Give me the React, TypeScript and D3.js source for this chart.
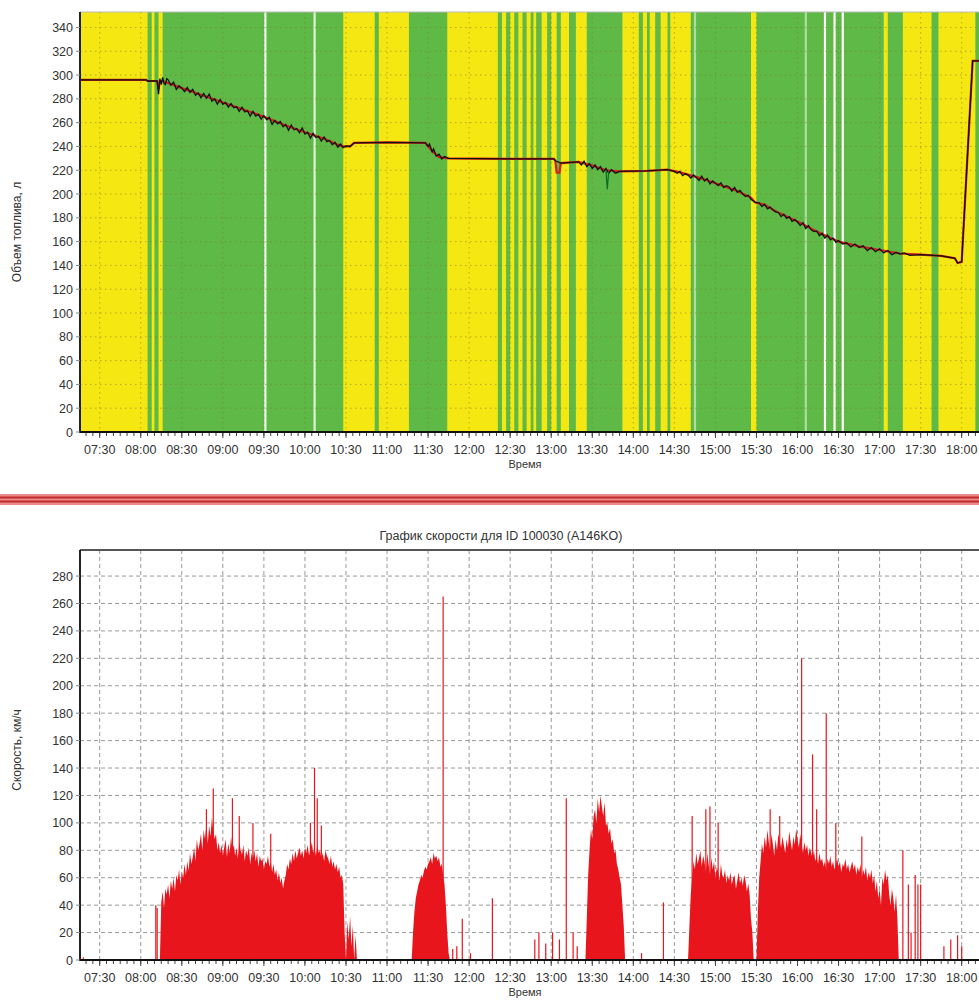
import React from "react";
import * as d3 from "d3";

const W = 979;
const H = 1001;

const parse = d3.timeParse("%H:%M");
const fmt = d3.timeFormat("%H:%M");
const T = (s: string) => parse(s) as Date;

// time window of both charts: 07:30 and 18:00 are anchored to their label positions
const timeAnchors = ["07:30", "18:00"];

// fuel chart: background state bands (green = moving), rest is yellow
const greenBands: [string, string][] = [
  ["08:05", "08:08"], ["08:10", "08:13"], ["08:16", "10:28"], ["10:51", "10:54"],
  ["11:16", "11:44"], ["12:21", "12:24"], ["12:27", "12:30"], ["12:33", "12:36"],
  ["12:39", "12:42"], ["12:45", "12:47"], ["12:49", "12:53"], ["12:57", "13:00"],
  ["13:04", "13:07"], ["13:13", "13:18"], ["13:26", "13:52"], ["14:04", "14:07"],
  ["14:10", "14:12"], ["14:16", "14:20"], ["14:25", "14:27"], ["14:42", "15:26"],
  ["15:30", "17:03"], ["17:06", "17:17"], ["17:38", "17:43"], ["18:10", "18:15"],
];
const whiteLines: [string, number][] = [
  ["09:31", 0.9], ["10:07", 0.8], ["14:45", 0.5], ["16:06", 0.5],
  ["16:20", 1], ["16:27", 1], ["16:33", 1],
];

// fuel volume, smoothed (red)
const fuelSmooth: [string, number][] = [
  ["07:15", 296], ["08:04", 296], ["08:05", 295], ["08:12", 295], ["08:13", 288],
  ["08:14", 295], ["08:16", 295], ["08:30", 289], ["08:45", 283], ["09:00", 277],
  ["09:15", 271], ["09:30", 265], ["09:45", 258], ["10:00", 252], ["10:15", 246],
  ["10:27", 240], ["10:33", 240], ["10:36", 243], ["11:00", 243.5], ["11:28", 243],
  ["11:33", 236], ["11:38", 231], ["11:45", 230], ["12:30", 229.5], ["13:02", 229.5],
  ["13:03", 228], ["13:04", 218], ["13:06", 218], ["13:07", 226], ["13:20", 227],
  ["13:30", 224], ["13:40", 220], ["13:50", 219], ["14:10", 219.5], ["14:25", 220.5],
  ["14:35", 218], ["14:50", 213], ["15:00", 209], ["15:15", 203], ["15:26", 197],
  ["15:29", 193], ["15:36", 191], ["15:45", 185], ["16:00", 177], ["16:15", 168],
  ["16:30", 160], ["16:45", 156], ["17:00", 153], ["17:15", 150], ["17:30", 149],
  ["17:45", 148], ["17:55", 146], ["17:57", 142], ["18:00", 143], ["18:08", 312],
  ["18:14", 312],
];

// fuel volume, raw sensor (black)
const fuelRaw: [string, number][] = [
  ["07:15", 296], ["08:04", 296], ["08:05", 295], ["08:12", 295], ["08:13", 284],
  ["08:14", 297], ["08:15", 292], ["08:16", 298], ["08:17", 293], ["08:18", 292],
  ["08:19", 297], ["08:20", 296], ["08:22", 291.5], ["08:24", 294], ["08:26", 288],
  ["08:28", 291], ["08:30", 289], ["08:32", 286], ["08:34", 289.5], ["08:36", 285.5],
  ["08:38", 288], ["08:40", 283], ["08:42", 285], ["08:44", 281], ["08:46", 284.5],
  ["08:48", 280.5], ["08:50", 284], ["08:52", 278], ["08:54", 280], ["08:56", 275.5],
  ["08:58", 279.5], ["09:00", 275.5], ["09:02", 277], ["09:04", 273], ["09:06", 276],
  ["09:08", 272.5], ["09:10", 273.5], ["09:12", 269.5], ["09:14", 273], ["09:16", 269],
  ["09:18", 270], ["09:20", 265.5], ["09:22", 269.5], ["09:24", 265.5], ["09:26", 267],
  ["09:28", 263], ["09:30", 266], ["09:32", 262.5], ["09:34", 264.5], ["09:36", 258.5],
  ["09:38", 262], ["09:40", 259], ["09:42", 261], ["09:44", 256.5], ["09:46", 258.5],
  ["09:48", 253.5], ["09:50", 258], ["09:52", 254], ["09:54", 255], ["09:56", 251.5],
  ["09:58", 255.5], ["10:00", 250.5], ["10:02", 252], ["10:04", 247], ["10:06", 251],
  ["10:08", 247.5], ["10:10", 248.5], ["10:12", 244.5], ["10:14", 248], ["10:16", 244],
  ["10:18", 245], ["10:20", 241.5], ["10:22", 243.5], ["10:24", 239.5], ["10:26", 242],
  ["10:28", 239], ["10:30", 240.5], ["10:33", 240], ["10:36", 243], ["11:00", 243.5],
  ["11:28", 243], ["11:30", 240], ["11:31", 242], ["11:33", 235.5], ["11:34", 238],
  ["11:36", 232], ["11:38", 233.5], ["11:40", 229.5], ["11:42", 231.5], ["11:45", 230],
  ["12:30", 229.5], ["13:02", 229.5], ["13:03", 228], ["13:07", 226], ["13:20", 227],
  ["13:22", 224.5], ["13:24", 227.5], ["13:26", 223], ["13:28", 225.5], ["13:30", 221.5],
  ["13:32", 224.5], ["13:34", 220.5], ["13:36", 223], ["13:38", 218.5], ["13:40", 221.5],
  ["13:42", 217.5], ["13:44", 220.5], ["13:47", 217.5], ["13:50", 219], ["14:10", 219.5],
  ["14:25", 220.5], ["14:30", 219], ["14:32", 217.5], ["14:34", 219], ["14:36", 215.5],
  ["14:38", 217], ["14:40", 216], ["14:42", 213.5], ["14:44", 216], ["14:46", 214],
  ["14:48", 211.5], ["14:50", 215], ["14:52", 211], ["14:54", 213], ["14:56", 208.5],
  ["14:58", 211], ["15:00", 209], ["15:02", 207], ["15:04", 209.5], ["15:06", 205.5],
  ["15:08", 207], ["15:10", 206], ["15:12", 202.5], ["15:14", 205.5], ["15:16", 201.5],
  ["15:18", 203], ["15:20", 200], ["15:22", 198], ["15:24", 199], ["15:26", 195.5],
  ["15:29", 193], ["15:32", 192.5], ["15:34", 189.5], ["15:36", 191.5], ["15:38", 187.5],
  ["15:40", 189], ["15:42", 186.5], ["15:44", 185], ["15:46", 184.5], ["15:48", 181],
  ["15:50", 183], ["15:52", 179.5], ["15:54", 181], ["15:56", 177], ["15:58", 178.5],
  ["16:00", 176.5], ["16:02", 173.5], ["16:04", 176], ["16:06", 171], ["16:08", 173.5],
  ["16:10", 170], ["16:12", 168.5], ["16:14", 169], ["16:16", 165], ["16:18", 167],
  ["16:20", 163], ["16:22", 165.5], ["16:24", 161.5], ["16:26", 163], ["16:28", 159.5],
  ["16:30", 161], ["16:33", 158], ["16:36", 159], ["16:39", 155.5], ["16:42", 158],
  ["16:45", 155], ["16:48", 156.5], ["16:51", 152.5], ["16:54", 155], ["16:57", 151.5],
  ["17:00", 154], ["17:03", 150.5], ["17:06", 152.5], ["17:09", 149], ["17:12", 151],
  ["17:15", 149.5], ["17:18", 150.5], ["17:22", 148.5], ["17:30", 149], ["17:45", 148],
  ["17:55", 146], ["17:57", 142], ["18:00", 143], ["18:08", 312], ["18:14", 312],
];

// short sensor glitches drawn in dark green
const fuelGlitch: [string, number][] = [
  ["13:40", 220], ["13:41", 204], ["13:42", 219],
];

// speed chart: continuous driving segments, 1-minute samples
const speedSegments: { start: string; values: number[] }[] = [
  {
    start: "08:14",
    values: [
      0, 42, 50, 38, 52, 48, 55, 45, 58, 52,
      60, 50, 62, 58, 66, 55, 64, 60, 70, 62,
      72, 65, 78, 70, 75, 82, 72, 88, 80, 85,
      92, 80, 95, 88, 100, 85, 98, 90, 104, 95,
      88, 92, 80, 86, 78, 84, 76, 82, 88, 75,
      85, 78, 90, 80, 84, 76, 82, 74, 86, 80,
      77, 84, 72, 80, 76, 82, 70, 78, 74, 80,
      72, 78, 68, 76, 72, 74, 66, 72, 70, 76,
      68, 72, 64, 70, 62, 66, 58, 64, 56, 60,
      52, 58, 62, 70, 66, 74, 70, 78, 72, 80,
      74, 78, 82, 76, 80, 74, 82, 78, 84, 76,
      80, 86, 78, 82, 76, 84, 78, 80, 74, 78,
      72, 80, 76, 74, 70, 76, 68, 72, 66, 70,
      64, 68, 60, 62, 55, 20, 0, 28, 15, 32,
      10, 25, 0, 18, 0,
    ],
  },
  {
    start: "11:18",
    values: [
      0, 20, 35, 45, 50, 55, 58, 62, 60, 65, 68, 66, 70, 72, 75,
      70, 78, 74, 76, 72, 75, 68, 70, 62, 55, 40, 20, 5, 0,
    ],
  },
  {
    start: "13:25",
    values: [
      0, 30, 62, 80, 95, 88, 105, 110, 100, 118, 108, 120, 112, 105, 115,
      98, 100, 92, 96, 85, 88, 78, 80, 70, 66, 60, 55, 40, 25, 0,
    ],
  },
  {
    start: "14:40",
    values: [
      0, 25, 48, 60, 72, 66, 78, 70, 74, 80, 68, 76, 72, 64, 78, 70, 62, 75, 66, 72,
      60, 68, 64, 58, 70, 62, 60, 66, 56, 62, 58, 64, 55, 60, 62, 52, 58, 64, 56, 60,
      54, 62, 58, 50, 56, 48, 30, 20, 0,
    ],
  },
  {
    start: "15:30",
    values: [
      0, 35, 60, 72, 85, 78, 90, 82, 95, 86,
      80, 92, 84, 76, 88, 80, 92, 86, 82, 90,
      84, 78, 88, 82, 94, 86, 80, 90, 84, 96,
      88, 82, 92, 84, 78, 86, 80, 84, 76, 82,
      78, 74, 80, 72, 76, 70, 78, 72, 74, 68,
      72, 66, 74, 70, 76, 68, 72, 66, 70, 74,
      68, 72, 64, 70, 68, 74, 66, 70, 64, 68,
      72, 66, 70, 62, 68, 64, 70, 60, 66, 62,
      68, 58, 64, 60, 66, 56, 62, 50, 58, 45,
      52, 40, 60, 55, 66, 58, 62, 48, 40, 52,
      45, 35, 48, 30, 0,
    ],
  },
];

// single speed readings (spikes and short moves)
const speedSpikes: [string, number][] = [
  ["07:18", 2], ["08:11", 40], ["08:12", 38], ["08:48", 110], ["08:53", 125], ["09:07", 118],
  ["09:12", 105], ["09:22", 100], ["09:35", 92], ["10:04", 100], ["10:07", 140],
  ["10:09", 118], ["10:12", 98], ["11:41", 265], ["11:48", 8], ["11:51", 10], ["11:55", 30],
  ["12:01", 5], ["12:17", 45], ["12:48", 15], ["12:51", 20], ["12:56", 12], ["13:01", 20],
  ["13:06", 15], ["13:11", 118], ["13:16", 20], ["13:19", 10], ["14:06", 5], ["14:22", 42],
  ["14:43", 105], ["14:53", 110], ["14:56", 112], ["15:02", 100], ["15:40", 110],
  ["15:47", 105], ["16:03", 220], ["16:11", 150], ["16:14", 110], ["16:21", 180],
  ["16:28", 100], ["16:47", 90], ["17:17", 80], ["17:21", 55], ["17:23", 20], ["17:26", 62],
  ["17:28", 55], ["17:30", 55], ["17:47", 10], ["17:52", 15], ["17:57", 18], ["18:00", 10],
];

const fuelTicks = d3.range(0, 341, 20);
const speedTicks = d3.range(0, 281, 20);

const FONT = "'Liberation Sans', Arial, sans-serif";
const TICK_SIZE = 12.5;
const YELLOW = "#f4e712";
const GREEN = "#5eb946";
const RED = "#e8161c";

const PL = 80; // plot left
const PR = 979; // plot right (cut by the picture edge)

const x = d3.scaleTime().domain(timeAnchors.map(T)).range([99.7, 961.7]);
const xTicks = d3.timeMinute.every(30)!.range(T("07:30"), T("18:01"));
const xMinor = d3.timeMinute.every(5)!.range(T("07:20"), T("18:15"));

const yFuel = d3.scaleLinear().domain([0, 353]).range([432, 12]);
const ySpeed = d3.scaleLinear().domain([0, 299]).range([960, 550]);

function XAxis({ y0, labelY }: { y0: number; labelY: number }) {
  return (
    <g fontFamily={FONT} fill="#333">
      {xMinor.filter((t) => x(t) < PR).map((t, i) => (
        <line key={"m" + i} x1={x(t)} x2={x(t)} y1={y0} y2={y0 + 3} stroke="#444" />
      ))}
      {xTicks.map((t, i) => (
        <g key={i}>
          <line x1={x(t)} x2={x(t)} y1={y0} y2={y0 + 5} stroke="#444" />
          <text x={x(t)} y={y0 + 21} textAnchor="middle" fontSize={TICK_SIZE}>{fmt(t)}</text>
        </g>
      ))}
      <text x={525} y={labelY} textAnchor="middle" fontSize={11}>Время</text>
    </g>
  );
}

function YAxis({ ticks, scale }: { ticks: number[]; scale: d3.ScaleLinear<number, number> }) {
  return (
    <g fontFamily={FONT} fontSize={TICK_SIZE} fill="#333">
      {ticks.map((v) => (
        <g key={v}>
          <line x1={PL - 4} x2={PL} y1={scale(v)} y2={scale(v)} stroke="#888" />
          <text x={73} y={scale(v) + 4.5} textAnchor="end">{v}</text>
        </g>
      ))}
    </g>
  );
}

export default function App() {
  const fuelLine = d3.line<[string, number]>().x((d) => x(T(d[0]))).y((d) => yFuel(d[1]));

  const speedArea = d3
    .area<{ t: Date; v: number }>()
    .x((d) => x(d.t))
    .y0(ySpeed(0))
    .y1((d) => ySpeed(d.v));

  const segPts = speedSegments.map((s) =>
    s.values.map((v, i) => ({ t: d3.timeMinute.offset(T(s.start), i), v }))
  );

  return (
    <svg width={W} height={H} style={{ position: "absolute", left: 0, top: 0, background: "#fff" }}>
      <rect width={W} height={H} fill="#fff" />

      {/* ---------- fuel chart ---------- */}
      <defs>
        <clipPath id="plotTop">
          <rect x={PL} y={12} width={PR - PL} height={420} />
        </clipPath>
        <clipPath id="plotBot">
          <rect x={PL} y={550} width={PR - PL} height={410} />
        </clipPath>
      </defs>
      <g clipPath="url(#plotTop)">
        <rect x={PL} y={12} width={PR - PL} height={420} fill={YELLOW} />
        {greenBands.map(([a, b], i) => (
          <rect key={i} x={x(T(a))} y={12} width={x(T(b)) - x(T(a))} height={420} fill={GREEN} />
        ))}
        {whiteLines.map(([t, o], i) => (
          <rect key={i} x={x(T(t)) - 1} y={12} width={2.2} height={420} fill="#fff" opacity={o} />
        ))}
        <g stroke="#7d7a2a" strokeOpacity={0.55} strokeDasharray="1.5,3.5">
          {fuelTicks.slice(1).map((v) => (
            <line key={v} x1={PL} x2={PR} y1={yFuel(v)} y2={yFuel(v)} />
          ))}
          {xTicks.map((t, i) => (
            <line key={i} x1={x(t)} x2={x(t)} y1={12} y2={432} />
          ))}
        </g>
        <path d={fuelLine(fuelSmooth) ?? ""} fill="none" stroke="#d3201c" strokeWidth={2.2} />
        <path d={fuelLine(fuelRaw) ?? ""} fill="none" stroke="#111" strokeWidth={1.3} />
        <path d={fuelLine(fuelGlitch) ?? ""} fill="none" stroke="#0c6b2a" strokeWidth={1.2} />
      </g>
      <line x1={PL} x2={PR} y1={12} y2={12} stroke="#bbb" />
      <line x1={PL} x2={PL} y1={12} y2={433} stroke="#222" strokeWidth={2} />
      <line x1={PL - 1} x2={PR} y1={432} y2={432} stroke="#111" strokeWidth={2} />
      <YAxis ticks={fuelTicks} scale={yFuel} />
      <XAxis y0={433} labelY={468} />
      <text
        transform="translate(21,232) rotate(-90)"
        textAnchor="middle"
        fontFamily={FONT}
        fontSize={12}
        fill="#333"
      >
        Объем топлива, л
      </text>

      {/* ---------- separator ---------- */}
      <rect x={0} y={494} width={W} height={11} fill="#e98a8a" />
      <rect x={0} y={496.5} width={W} height={2} fill="#c42a2a" />
      <rect x={0} y={500.5} width={W} height={2} fill="#c42a2a" />

      {/* ---------- speed chart ---------- */}
      <text x={501} y={540} textAnchor="middle" fontFamily={FONT} fontSize={TICK_SIZE} fill="#333">
        График скорости для ID 100030 (A146KO)
      </text>
      <g clipPath="url(#plotBot)">
        <g stroke="#9a9a9a" strokeDasharray="4,3">
          {speedTicks.slice(1).map((v) => (
            <line key={v} x1={PL} x2={PR} y1={ySpeed(v)} y2={ySpeed(v)} />
          ))}
          {xTicks.map((t, i) => (
            <line key={i} x1={x(t)} x2={x(t)} y1={550} y2={960} />
          ))}
        </g>
        {segPts.map((pts, i) => (
          <path key={i} d={speedArea(pts) ?? ""} fill={RED} />
        ))}
        {speedSpikes.map(([t, v], i) => (
          <line key={i} x1={x(T(t))} x2={x(T(t))} y1={ySpeed(0)} y2={ySpeed(v)} stroke={RED} strokeWidth={1.2} />
        ))}
      </g>
      <line x1={PL} x2={PR} y1={550} y2={550} stroke="#555" strokeWidth={2} />
      <line x1={PL} x2={PL} y1={550} y2={961} stroke="#222" strokeWidth={2} />
      <line x1={PL - 1} x2={PR} y1={960} y2={960} stroke="#111" strokeWidth={2} />
      <YAxis ticks={speedTicks} scale={ySpeed} />
      <XAxis y0={961} labelY={996} />
      <text
        transform="translate(21,750) rotate(-90)"
        textAnchor="middle"
        fontFamily={FONT}
        fontSize={12}
        fill="#333"
      >
        Скорость, км/ч
      </text>
    </svg>
  );
}
